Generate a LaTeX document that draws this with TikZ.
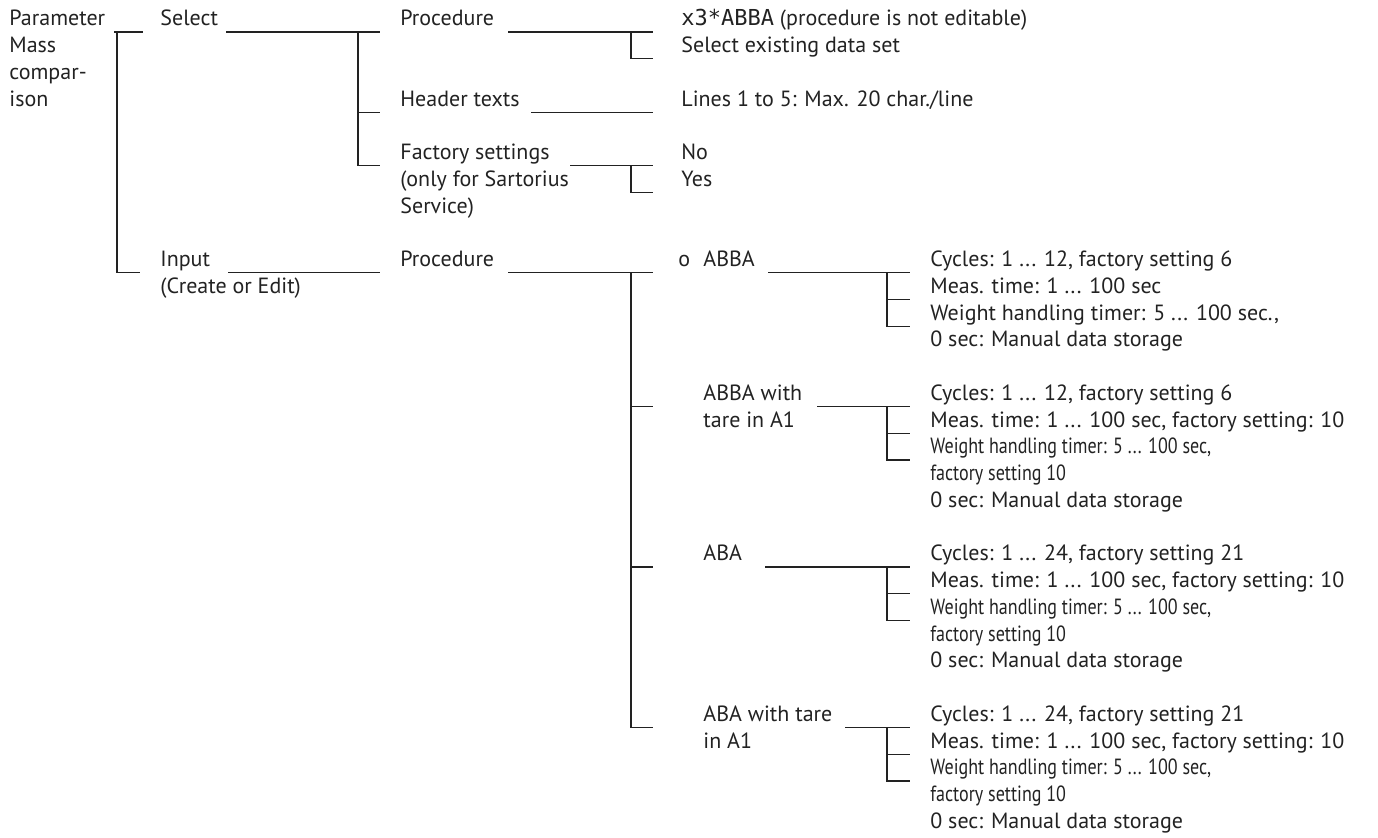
\documentclass[tikz,border=0pt]{standalone}
\usepackage{fontspec}
\usepackage{graphicx}
\setmainfont{PT Sans}
\newfontfamily\lcdfont{DejaVu Sans Mono}
\definecolor{ink}{HTML}{222222}
\tikzset{
  txt/.style={anchor=base west, inner sep=0pt, text=ink, font=\fontsize{11}{13}\selectfont},
  tree/.style={draw=ink, line width=0.65pt}
}
\newcommand{\cond}[1]{\scalebox{0.82}[1]{#1}}
\begin{document}
\begin{tikzpicture}[x=0.5pt,y=-0.5pt]
\useasboundingbox (0,0) rectangle (1378,838);
% column 1
\node[txt] (par1) at (9,26) {Parameter};
\node[txt] (par2) at (9,52.75) {Mass};
\node[txt] (par3) at (9,79.5) {compar-};
\node[txt] (par4) at (9,106.25) {ison};
% column 2
\node[txt] (sel) at (160,26) {Select};
\node[txt] (inp1) at (160,266.75) {Input};
\node[txt] (inp2) at (160,293.5) {(Create or Edit)};
% column 3
\node[txt] (proc1) at (400,26) {Procedure};
\node[txt] (head) at (400,106.25) {Header texts};
\node[txt] (fac1) at (400,159.75) {Factory settings};
\node[txt] (fac2) at (400,186.5) {(only for Sartorius};
\node[txt] (fac3) at (400,213.25) {Service)};
\node[txt] (proc2) at (400,266.75) {Procedure};
% column 4 (top)
\node[txt] (x3) at (681,26) {{\lcdfont x3*ABBA} (procedure is not editable)};
\node[txt] (exist) at (681,52.75) {Select existing data set};
\node[txt] (lines) at (681,106.25) {Lines 1 to 5: Max. 20 char./line};
\node[txt] (no) at (681,159.75) {No};
\node[txt] (yes) at (681,186.5) {Yes};
% column 4 (procedures)
\node[txt] (o) at (678,266.75) {o};
\node[txt] (abba) at (703,266.75) {ABBA};
\node[txt] (abbaw1) at (703,400.5) {ABBA with};
\node[txt] (abbaw2) at (703,427.25) {tare in A1};
\node[txt] (aba) at (703,561) {ABA};
\node[txt] (abaw1) at (703,721.5) {ABA with tare};
\node[txt] (abaw2) at (703,748.25) {in A1};
% leaves ABBA
\node[txt] (a1) at (930,266.75) {Cycles: 1 ... 12, factory setting 6};
\node[txt] (a2) at (930,293.5) {Meas. time: 1 ... 100 sec};
\node[txt] (a3) at (930,320.25) {Weight handling timer: 5 ... 100 sec.,};
\node[txt] (a4) at (930,347) {0 sec: Manual data storage};
% leaves ABBA with tare
\node[txt] (b1) at (930,400.5) {Cycles: 1 ... 12, factory setting 6};
\node[txt] (b2) at (930,427.25) {Meas. time: 1 ... 100 sec, factory setting: 10};
\node[txt] (b3) at (930,454) {\cond{Weight handling timer: 5 ... 100 sec,}};
\node[txt] (b4) at (930,480.75) {\cond{factory setting 10}};
\node[txt] (b5) at (930,507.5) {0 sec: Manual data storage};
% leaves ABA
\node[txt] (c1) at (930,561) {Cycles: 1 ... 24, factory setting 21};
\node[txt] (c2) at (930,587.75) {Meas. time: 1 ... 100 sec, factory setting: 10};
\node[txt] (c3) at (930,614.5) {\cond{Weight handling timer: 5 ... 100 sec,}};
\node[txt] (c4) at (930,641.25) {\cond{factory setting 10}};
\node[txt] (c5) at (930,668) {0 sec: Manual data storage};
% leaves ABA with tare
\node[txt] (d1) at (930,721.5) {Cycles: 1 ... 24, factory setting 21};
\node[txt] (d2) at (930,748.25) {Meas. time: 1 ... 100 sec, factory setting: 10};
\node[txt] (d3) at (930,775) {\cond{Weight handling timer: 5 ... 100 sec,}};
\node[txt] (d4) at (930,801.75) {\cond{factory setting 10}};
\node[txt] (d5) at (930,828.5) {0 sec: Manual data storage};
% tree lines
\draw[tree] (114,32) -- (143,32);
\draw[tree] (117,32) |- (140,272.75);
\draw[tree] (226,32) -- (380,32);
\draw[tree] (358,32) |- (380,165.75);
\draw[tree] (358,112.25) -- (380,112.25);
\draw[tree] (508,32) -- (653,32);
\draw[tree] (631,32) |- (653,58.75);
\draw[tree] (531,112.25) -- (653,112.25);
\draw[tree] (570,165.75) -- (653,165.75);
\draw[tree] (631,165.75) |- (653,192.5);
\draw[tree] (228,272.75) -- (380,272.75);
\draw[tree] (508,272.75) -- (653,272.75);
\draw[tree] (631,272.75) |- (653,727.5);
\draw[tree] (631,406.5) -- (653,406.5);
\draw[tree] (631,567) -- (653,567);
\draw[tree] (768,272.75) -- (910,272.75);
\draw[tree] (887,272.75) |- (910,326.25);
\draw[tree] (887,299.5) -- (910,299.5);
\draw[tree] (817,406.5) -- (910,406.5);
\draw[tree] (887,406.5) |- (910,460);
\draw[tree] (887,433.25) -- (910,433.25);
\draw[tree] (765,567) -- (910,567);
\draw[tree] (887,567) |- (910,620.5);
\draw[tree] (887,593.75) -- (910,593.75);
\draw[tree] (845,727.5) -- (910,727.5);
\draw[tree] (887,727.5) |- (910,781);
\draw[tree] (887,754.25) -- (910,754.25);
\end{tikzpicture}
\end{document}
